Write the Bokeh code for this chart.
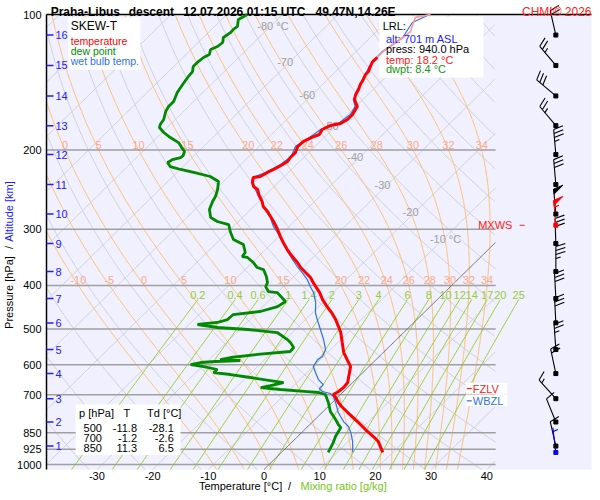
from math import pi
import numpy as np
from bokeh.plotting import figure
from bokeh.models import Range1d
from bokeh.core.properties import value
from bokeh.embed import file_html
from bokeh.resources import INLINE

FONT = "Liberation Sans"

# sounding Praha-Libus, descent 12.07.2026 01:15 UTC
temp_p = [100.0, 101.5, 104.2, 109.1, 112.5, 114.8, 117.8, 120.8, 124.6, 127.2, 130.5, 133.9, 135.9,
          139.4, 143.1, 146.8, 150.6, 154.5, 160.2, 162.6, 166.8, 171.1, 174.7, 176.5, 180.1, 184.8,
          187.7, 191.6, 196.6, 202.7, 207.9, 212.2, 215.4, 221.0, 224.4, 229.1, 230.3, 236.3, 241.1,
          244.9, 251.2, 260.4, 267.1, 274.1, 288.4, 300.5, 311.5, 321.2, 332.9, 345.1, 355.8, 365.0,
          374.5, 384.2, 394.2, 414.9, 430.0, 445.7, 459.6, 476.3, 493.7, 509.0, 535.8, 563.9, 584.5,
          605.8, 624.7, 657.5, 674.5, 688.4, 699.0, 709.9, 728.3, 743.3, 766.5, 802.7, 836.2, 866.7,
          889.2, 940.0]
temp_c = [-53.4, -55.6, -55.0, -53.9, -54.1, -54.4, -54.8, -55.1, -55.1, -55.2, -54.7, -54.1, -54.1,
          -53.6, -53.2, -52.6, -52.2, -51.5, -49.7, -49.5, -49.1, -49.1, -49.6, -51.1, -51.8, -51.4,
          -52.3, -53.0, -53.1, -52.4, -52.4, -52.2, -52.5, -53.2, -53.8, -54.3, -55.4, -54.6, -53.7,
          -52.4, -51.3, -49.4, -48.3, -46.6, -43.7, -41.5, -39.7, -38.1, -36.1, -33.9, -31.9, -30.4,
          -28.6, -26.8, -25.4, -22.4, -20.6, -18.5, -16.6, -14.6, -12.8, -11.3, -9.2, -7.1, -5.2,
          -3.3, -2.4, -0.9, -0.7, -0.9, -1.3, -0.3, 1.1, 2.4, 4.6, 8.0, 10.9, 13.6,
          15.4, 18.2]

dewp_p = [100.0, 102.6, 106.3, 108.0, 109.6, 112.5, 115.4, 117.8, 119.6, 122.7, 124.6, 127.2, 130.5,
          133.9, 138.0, 143.1, 149.1, 156.1, 160.2, 164.3, 171.1, 175.6, 178.3, 182.9, 187.7, 192.6,
          196.6, 201.6, 205.8, 207.9, 210.1, 213.3, 217.7, 221.0, 224.4, 229.1, 235.0, 244.9, 253.8,
          260.4, 271.3, 282.6, 288.4, 292.9, 305.1, 316.2, 324.4, 338.0, 345.1, 346.7, 355.8, 365.0,
          368.8, 382.3, 394.2, 402.3, 412.7, 414.9, 434.4, 445.7, 457.1, 464.2, 476.3, 483.5, 488.5,
          496.1, 501.2, 509.0, 527.6, 535.8, 549.5, 560.9, 569.5, 578.4, 584.5, 587.4, 590.4, 593.4,
          599.5, 605.8, 615.0, 624.7, 631.0, 640.7, 657.5, 667.7, 674.5, 681.3, 688.4, 691.8, 699.0,
          728.3, 762.6, 794.3, 814.9, 827.6, 866.7, 893.8, 940.0]
dewp_c = [-86.3, -87.0, -85.9, -86.1, -86.0, -86.4, -85.6, -85.8, -86.5, -85.8, -86.3, -86.5, -86.5,
          -85.7, -85.5, -85.1, -84.6, -83.6, -83.6, -83.2, -82.1, -81.8, -81.4, -79.7, -77.6, -75.2,
          -74.0, -72.5, -72.0, -72.1, -73.2, -73.5, -72.3, -69.9, -67.0, -63.3, -60.9, -59.6, -58.7,
          -58.3, -57.4, -55.7, -53.8, -51.2, -49.4, -47.6, -44.9, -43.1, -42.9, -41.8, -39.8, -38.2,
          -36.7, -34.9, -33.6, -33.2, -31.8, -30.0, -26.9, -27.4, -29.6, -33.9, -34.0, -35.3, -38.5,
          -34.3, -28.6, -22.7, -19.6, -18.5, -17.0, -16.9, -22.2, -26.5, -28.0, -24.2, -28.5, -31.0,
          -32.4, -29.7, -26.7, -26.8, -23.4, -19.3, -12.4, -14.2, -15.6, -11.7, -6.5, -4.3, -2.7,
          -0.7, 1.3, 3.7, 5.1, 6.1, 6.8, 7.5, 8.4]

wetb_p = [100.0, 104.2, 112.5, 120.8, 124.6, 130.5, 139.4, 146.8, 154.5, 160.2, 166.8, 174.7, 180.1,
          187.7, 196.6, 206.9, 215.4, 224.4, 230.3, 236.3, 244.9, 251.2, 260.4, 267.1, 274.1, 282.6,
          295.9, 305.1, 321.2, 336.3, 350.4, 363.1, 374.5, 388.2, 402.3, 414.9, 436.5, 459.6, 476.3,
          501.2, 527.6, 555.3, 575.4, 584.5, 605.8, 624.7, 647.5, 664.3, 678.1, 688.4, 695.4, 706.3,
          728.3, 766.5, 802.7, 823.4, 848.9, 889.2, 940.0]
wetb_c = [-53.6, -55.2, -54.2, -55.3, -55.2, -54.9, -53.7, -52.8, -51.7, -50.1, -49.5, -50.0, -52.1,
          -52.6, -53.5, -52.4, -52.9, -54.1, -55.5, -54.8, -52.8, -51.5, -49.5, -48.3, -46.8, -45.0,
          -42.8, -41.0, -38.2, -35.7, -33.3, -31.2, -29.2, -27.0, -25.2, -23.5, -21.3, -19.5, -17.9,
          -15.5, -13.1, -10.9, -10.2, -10.5, -10.0, -8.5, -6.7, -4.9, -4.9, -3.8, -2.0, -0.9,
          0.6, 2.9, 5.5, 7.3, 8.8, 10.8, 12.8]

# altitude scale and winds at every km
alt_km = [16, 15, 14, 13, 12, 11, 10, 9, 8, 7, 6, 5, 4, 3, 2, 1]
alt_p = [111.1, 129.8, 151.7, 176.6, 204.7, 238.7, 277.6, 322.8, 372.6, 427.7, 484.5, 555.3,
         627.9, 714.0, 804.6, 910.0]
wind_dir = [347, 320, 310, 320, 355, 355, 355, 358, 0, 357, 357, 356, 348, 318, 338, 347]
wind_kt = [20, 25, 30, 25, 35, 30, 50, 30, 35, 30, 30, 25, 20, 15, 10, 10]
mxws_p, mxws_dir, mxws_kt = 294.0, 355, 55
sfc_dir, sfc_kt = 353, 5

# lifted reference level, levels, table
lrl_alt, lrl_p, lrl_t, lrl_td = 701, 940.0, 18.2, 8.4
fzlv_p, wbzl_p = 678.0, 722.0
tbl_p = [500, 700, 850]
tbl_t = [-11.8, -1.2, 11.3]
tbl_td = [-28.1, -2.6, 6.5]

# diagram background families and tick labels
p_ticks = [100, 200, 300, 400, 500, 600, 700, 850, 925, 1000]
t_ticks = [-30, -20, -10, 0, 10, 20, 30, 40]
isotherms = list(range(-130, 41, 10))
dry_theta = list(range(230, 501, 10))
moist_tw = [-10, -5, 0, 5, 10, 15, 20, 22, 24, 26, 28, 30, 32, 34]
moist_lab_200 = [0, 5, 10, 15, 20, 22, 24, 26, 28, 30, 32, 34]
moist_lab_400 = [-10, -5, 0, 5, 10, 15, 20, 22, 24, 26, 28, 30, 32, 34]
mix_ratio = [0.2, 0.4, 0.6, 1, 1.4, 2, 3, 4, 6, 8, 10, 12, 14, 17, 20, 25]
isobars = [200, 300, 400, 500, 600, 700, 850, 925, 1000]
iso_lab_t = [-80, -70, -60, -50, -40, -30, -20, -10]
iso_lab_p = [106.3, 127.2, 150.6, 177.0, 206.9, 238.7, 274.1, 316.2]

# geometry: the diagram box inside a 592 x 492 canvas
CW, CH = 592, 492
FL, FT, FW, FH = 46, 14, 545, 455
P_BOT = 1025.9
XL, XR = -39.05, 58.8
XG = 41.6          # right edge of the thermodynamic grid
X_BARB = 52.4
SKEW = 82.4        # degC per decade of pressure
XS = FW / (XR - XL)
YS = FH / np.log10(P_BOT / 100.0)


def sx(x, dx):      # shift a data x by dx pixels
    return x + dx / XS


def sp(pr, dy):     # shift a pressure by dy pixels downwards
    return pr * 10 ** (dy / YS)


def skx(t, pr):
    return np.asarray(t, float) + SKEW * np.log10(P_BOT / np.asarray(pr, float))


def clip_grid(x):
    x = np.array(x, float)
    x[(x > XG) | (x < XL)] = np.nan
    return x


def pseudo_adiabats(tw_list, levels):
    tw = np.array(tw_list, float) + 273.15

    def rate(t, pr):
        es = 6.112 * np.exp(17.67 * (t - 273.15) / (t - 29.65))
        rs = 0.622 * es / (pr - es)
        return (287.04 * t + 2.501e6 * rs) / (pr * (1005.7 + 2.501e6 ** 2 * rs * 0.622 / (287.04 * t * t)))

    def run(grid):
        t = tw.copy()
        out = [t.copy()]
        for a, b in zip(grid[:-1], grid[1:]):
            h = b - a
            k1 = rate(t, a)
            k2 = rate(t + h * k1, b)
            t = t + 0.5 * h * (k1 + k2)
            out.append(t.copy())
        return np.array(out)

    up = np.arange(1000.0, 99.0, -1.0)
    dn = np.arange(1000.0, 1027.0, 1.0)
    pr = np.concatenate([up[::-1], dn[1:]])
    tt = np.concatenate([run(up)[::-1], run(dn)[1:]])
    return [np.interp(levels, pr, tt[:, i]) - 273.15 for i in range(len(tw))]


p = figure(width=CW, height=CH,
           x_range=Range1d(sx(XL, -FL), sx(XL, CW - FL)),
           y_range=Range1d(sp(100, CH - FT), sp(100, -FT)),
           y_axis_type="log", x_axis_location=None, y_axis_location=None,
           output_backend="svg", toolbar_location=None, min_border=0,
           background_fill_color="white", border_fill_color="white", outline_line_color=None)
p.grid.visible = False

txt = dict(text_font=value(FONT), text_font_size="11px")

# diagram background
p.quad(left=[XL], right=[XR], top=[100], bottom=[P_BOT], fill_color="#f0f0fe", line_color=None)

pg = np.geomspace(100, P_BOT, 400)

# isotherms and dry adiabats
gx = [clip_grid(skx(np.full_like(pg, t), pg)) for t in isotherms if t != 0]
gx += [clip_grid(skx(th * (pg / 1000.0) ** 0.2857 - 273.15, pg)) for th in dry_theta]
p.multi_line(xs=gx, ys=[pg] * len(gx), line_color="#d0d0da", line_width=1)

# moist adiabats
moist = pseudo_adiabats(moist_tw, pg)
p.multi_line(xs=[clip_grid(skx(m, pg)) for m in moist], ys=[pg] * len(moist),
             line_color="#ffbf70", line_width=1)

# mixing ratio lines
pm = np.geomspace(430, P_BOT, 120)
mx = []
for w in mix_ratio:
    lg = np.log((w * pm / (622.0 + w)) / 6.112)
    mx.append(skx(243.5 * lg / (17.67 - lg), pm))
p.multi_line(xs=mx, ys=[pm] * len(mx), line_color="#9ad02c", line_width=1)

# isobars, frame lines, 0 degC isotherm
p.segment(x0=[XL] * len(isobars), x1=[XG] * len(isobars), y0=isobars, y1=isobars,
          line_color="#a0a0a0", line_width=1.5)
p.segment(x0=[XL, XL], x1=[XR, XL], y0=[100, 100], y1=[100, P_BOT],
          line_color="black", line_width=1.5)
p.line(clip_grid(skx(np.zeros_like(pg), pg)), pg, line_color="#707070", line_width=1)

# axis tick labels
p.text(x=[sx(XL, -5)] * len(p_ticks), y=p_ticks, text=[str(v) for v in p_ticks],
       text_color="black", text_align="right", text_baseline="middle", **txt)
p.text(x=t_ticks, y=[sp(P_BOT, 6)] * len(t_ticks), text=[str(v) for v in t_ticks],
       text_color="black", text_align="center", text_baseline="middle", **txt)

# grid labels
lx, ly, lt = [], [], []
for lev, labs in ((200, moist_lab_200), (400, moist_lab_400)):
    for tw in labs:
        t_at = float(np.interp(lev, pg, moist[moist_tw.index(tw)]))
        x = float(skx(t_at, lev))
        if XL + 0.4 < x < XG:
            lx.append(x)
            ly.append(sp(lev, -1))
            lt.append(str(tw))
p.text(x=lx, y=ly, text=lt, text_color="#ffa88a", text_align="center",
       text_baseline="bottom", **txt)

mx_top = [float(m[0]) for m in mx]
p.text(x=mx_top, y=[sp(430, -1)] * len(mix_ratio), text=[f"{w:g}" for w in mix_ratio],
       text_color="#99cc33", text_align="center", text_baseline="bottom", **txt)

iso_text = [f"{t} °C" if t in (-80, -10) else str(t) for t in iso_lab_t]
p.text(x=[sx(v, -13) for v in skx(iso_lab_t, iso_lab_p)], y=iso_lab_p, text=iso_text,
       text_color="#a0a0a0", text_align="left", text_baseline="middle", **txt)

# white info boxes (under the curves)
p.quad(left=[-35.1, 20.7, -33.8, 36.2, 36.2], right=[-22.2, 39.4, -15.0, 43.7, 43.7],
       top=[101.5, 101.0, 735.6, 658.0, 699.0], bottom=[132.5, 138.0, 952.6, 695.0, 741.0],
       fill_color="white", line_color=None)

# sounding curves
p.line(skx(wetb_c, wetb_p), wetb_p, line_color="#2f6fe8", line_width=1.2)
p.line(skx(dewp_c, dewp_p), dewp_p, line_color="#008a00", line_width=2.8)
n_top = 9
p.line(skx(temp_c[:n_top], temp_p[:n_top]), temp_p[:n_top], line_color="#ff9a9a", line_width=1.6)
p.line(skx(temp_c[n_top - 1:], temp_p[n_top - 1:]), temp_p[n_top - 1:],
       line_color="#ff0000", line_width=3)

# legend
p.text(x=[-34.7], y=[106.3], text=["SKEW-T"], text_color="black", text_baseline="middle",
       text_font=value(FONT), text_font_size="12px")
p.text(x=[-34.7] * 3, y=[114.8, 120.8, 126.6], text=["temperature", "dew point", "wet bulb temp."],
       text_color=["#ff0000", "#008a00", "#2f6fe8"], text_baseline="middle",
       text_font=value(FONT), text_font_size="10.5px")

# LRL box
p.text(x=[21.3, 21.9, 21.9, 21.9, 21.9], y=[106.2, 113.6, 119.6, 125.9, 132.5],
       text=["LRL:", f"alt: {lrl_alt} m ASL", f"press: {lrl_p:.1f} hPa",
             f"temp: {lrl_t:.1f} °C", f"dwpt: {lrl_td:.1f} °C"],
       text_color=["black", "#2020ff", "black", "#ff2020", "#119911"],
       text_baseline="middle", **txt)

# table
p.text(x=[-33.2, -24.6, -21.0], y=[767.7] * 3, text=["p [hPa]", "T", "Td [°C]"],
       text_color="black", text_align=["left", "center", "left"], text_baseline="middle", **txt)
rows_p = [828.6, 872.3, 918.1]
p.text(x=[-29.1] * 3, y=rows_p, text=[str(v) for v in tbl_p], text_color="black",
       text_align="right", text_baseline="middle", **txt)
p.text(x=[-22.8] * 3, y=rows_p, text=[f"{v:.1f}" for v in tbl_t], text_color="black",
       text_align="right", text_baseline="middle", **txt)
p.text(x=[-16.2] * 3, y=rows_p, text=[f"{v:.1f}" for v in tbl_td], text_color="black",
       text_align="right", text_baseline="middle", **txt)

# level markers
p.segment(x0=[36.4, 36.4, 45.9], x1=[37.3, 37.3, 46.8], y0=[fzlv_p, wbzl_p, mxws_p],
          y1=[fzlv_p, wbzl_p, mxws_p], line_color=["#ff2020", "#2f6fe8", "#ff2020"], line_width=1.2)
p.text(x=[37.5, 37.5], y=[fzlv_p, wbzl_p], text=["FZLV", "WBZL"],
       text_color=["#ff2020", "#2f6fe8"], text_baseline="middle", **txt)
p.text(x=[44.6], y=[mxws_p], text=["MXWS"], text_color="#ff2020", text_align="right",
       text_baseline="middle", **txt)

# altitude scale
p.segment(x0=[XL] * len(alt_p), x1=[sx(XL, 7)] * len(alt_p), y0=alt_p, y1=alt_p,
          line_color="#2020ff", line_width=1.5)
p.text(x=[sx(XL, 9)] * len(alt_p), y=alt_p, text=[str(k) for k in alt_km],
       text_color="#2020ff", text_baseline="middle", **txt)

# wind barbs
STAFF = 25


def barb(pr, d, spd):
    a = np.radians(d)
    ux, uy = np.sin(a), np.cos(a)
    r = np.radians(72)
    fx, fy = ux * np.cos(r) + uy * np.sin(r), -ux * np.sin(r) + uy * np.cos(r)

    def pt(ex, ey):
        return sx(X_BARB, ex), sp(pr, -ey)

    segs = [(pt(0, 0), pt(STAFF * ux, STAFF * uy))]
    tris = []
    n50, rest = divmod(int(spd), 50)
    n10, rest = divmod(rest, 10)
    s = STAFF
    for _ in range(n50):
        tris.append([pt(s * ux, s * uy), pt(s * ux + 10 * fx, s * uy + 10 * fy),
                     pt((s - 5) * ux, (s - 5) * uy)])
        s -= 7
    for _ in range(n10):
        segs.append((pt(s * ux, s * uy), pt(s * ux + 10 * fx, s * uy + 10 * fy)))
        s -= 4
    if rest >= 5:
        if s == STAFF:
            s -= 4
        segs.append((pt(s * ux, s * uy), pt(s * ux + 5 * fx, s * uy + 5 * fy)))
    return segs, tris


bx0, by0, bx1, by1, bcol, tx, ty, tcol = [], [], [], [], [], [], [], []
levels = [(a, b, c, "black") for a, b, c in zip(alt_p, wind_dir, wind_kt)]
levels += [(mxws_p, mxws_dir, mxws_kt, "#ff0000"), (lrl_p, sfc_dir, sfc_kt, "#0000ee")]
for pr, d, spd, col in levels:
    segs, tris = barb(pr, d, spd)
    for (xa, ya), (xb, yb) in segs:
        bx0.append(xa); by0.append(ya); bx1.append(xb); by1.append(yb); bcol.append(col)
    for tri in tris:
        tx.append([q[0] for q in tri]); ty.append([q[1] for q in tri]); tcol.append(col)
p.segment(x0=bx0, y0=by0, x1=bx1, y1=by1, line_color=bcol, line_width=1.1)
p.patches(xs=tx, ys=ty, fill_color=tcol, line_color=tcol)
p.scatter(x=[X_BARB] * (len(alt_p) + 2), y=alt_p + [mxws_p, lrl_p], marker="square", size=4,
          color=["black"] * len(alt_p) + ["#ff0000", "#0000ee"])

# title row
title_x = [-38.3, -24.3, -14.5, 9.25]
title_t = ["Praha-Libus", "descent", "12.07.2026 01:15 UTC", "49.47N,14.26E"]
p.text(x=title_x, y=[sp(100, -3)] * 4, text=title_t, text_color="black",
       text_baseline="alphabetic", text_font=value(FONT), text_font_size="12px",
       text_font_style="bold")
p.text(x=[sx(XR, 0)], y=[sp(100, -3)], text=["CHMI© 2026"], text_color="#ff2020",
       text_align="right", text_baseline="alphabetic", text_font=value(FONT),
       text_font_size="12px")

# axis titles
p.text(x=[sx(XL, -38)] * 3, y=[414.8, 329.5, 274.1], text=["Pressure [hPa]", "/", "Altitude [km]"],
       text_color=["black", "black", "#2020ff"], angle=pi / 2, text_align="center",
       text_baseline="middle", **txt)
p.text(x=[-4.2, 4.6, 14.3], y=[sp(P_BOT, 16)] * 3,
       text=["Temperature [°C]", "/", "Mixing ratio [g/kg]"],
       text_color=["black", "black", "#77c520"], text_align="center", text_baseline="middle", **txt)

open("out.html", "w").write(file_html(p, INLINE))
